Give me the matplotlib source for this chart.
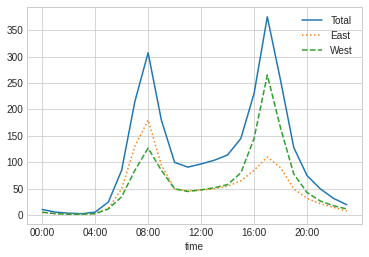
import numpy as np
import matplotlib.pyplot as plt
from matplotlib.ticker import FuncFormatter

hours = np.arange(24)
total = [11, 6, 4, 3, 6, 25, 85, 215, 307, 180, 100, 91,
         97, 104, 114, 145, 230, 375, 255, 128, 75, 50, 32, 20]
east = [5, 3, 2, 2, 3, 13, 50, 130, 180, 95, 50, 46,
        48, 50, 55, 65, 85, 110, 90, 50, 32, 22, 15, 8]
west = [6, 3, 2, 2, 3, 12, 35, 85, 127, 85, 50, 45,
        48, 52, 58, 80, 145, 265, 165, 78, 43, 27, 18, 12]

plt.style.use('seaborn-v0_8-whitegrid')
plt.rcParams['font.family'] = ['Liberation Sans', 'DejaVu Sans']
plt.rcParams['font.size'] = 10

fig = plt.figure(figsize=(369 / 72, 257 / 72), dpi=72)
ax = fig.add_axes([0.073, 0.128, 0.908, 0.845])

ax.plot(hours, total, '-', label='Total')
ax.plot(hours, east, ':', label='East')
ax.plot(hours, west, '--', label='West')

ax.set_xticks(range(0, 21, 4))
ax.xaxis.set_major_formatter(FuncFormatter(lambda v, p: '%02d:00' % int(v)))
ax.set_yticks(range(0, 351, 50))
ax.set_xlabel('time')
ax.legend(loc='upper right')

fig.savefig('out.png', dpi=72)
